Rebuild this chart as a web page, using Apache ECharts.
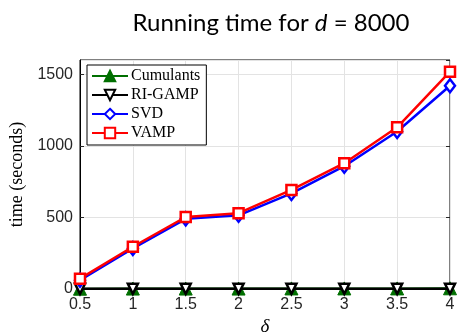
<!DOCTYPE html>
<html>
<head>
<meta charset="utf-8">
<script src="https://cdn.jsdelivr.net/npm/echarts@6/dist/echarts.min.js"></script>
<style>
  html, body { margin: 0; padding: 0; background: #fff; }
  #chart { width: 459px; height: 333px; }
</style>
</head>
<body>
<div id="chart"></div>
<script>
// data
const deltas = [0.5, 1, 1.5, 2, 2.5, 3, 3.5, 4];
const cumulants = [2, 3, 3, 3, 4, 4, 4, 5];
const riGamp = [1, 1, 1, 1, 1, 1, 1, 1];
const svd = [62, 283, 490, 515, 668, 858, 1100, 1420];
const vamp = [72, 295, 503, 530, 692, 879, 1130, 1518];
const yTicks = [0, 500, 1000, 1500];

const pairs = (ys) => deltas.map((x, i) => [x, ys[i]]);

const myChart = echarts.init(document.getElementById('chart'));

const tickLabel = { color: '#262626', fontSize: 16, fontFamily: 'Liberation Sans' };

const option = {
  animation: false,
  title: {
    text: 'Running time for {i|d} = 8000',
    left: 266,
    textAlign: 'center',
    top: 6,
    textStyle: {
      fontFamily: 'Lato',
      fontSize: 24,
      fontWeight: 'normal',
      color: '#000',
      rich: {
        i: { fontFamily: 'Lato', fontStyle: 'italic', fontSize: 24, color: '#000' }
      }
    }
  },
  legend: {
    left: 87,
    top: 65,
    orient: 'vertical',
    backgroundColor: '#fff',
    borderColor: '#000',
    borderWidth: 1,
    padding: [3, 6, 4, 4],
    itemGap: 3,
    itemWidth: 36,
    itemHeight: 13,
    textStyle: { fontFamily: 'Liberation Serif', fontSize: 16, color: '#000', padding: [0, 0, 0, -2] },
    data: ['Cumulants', 'RI-GAMP', 'SVD', 'VAMP']
  },
  grid: {
    left: 80, right: 9, top: 60, bottom: 44,
    outerBoundsMode: 'none',
    show: true, borderColor: '#000', borderWidth: 1
  },
  xAxis: [
    {
      type: 'value', min: 0.5, max: 4, interval: 0.5,
      name: 'δ', nameLocation: 'middle', nameGap: 28,
      nameTextStyle: { fontFamily: 'Liberation Serif', fontStyle: 'italic', fontSize: 19, color: '#000' },
      axisLine: { show: false },
      axisTick: { inside: true, length: 4, lineStyle: { color: '#262626' } },
      axisLabel: Object.assign({ margin: 8 }, tickLabel),
      splitLine: { show: true, lineStyle: { color: '#e3e3e3', width: 1 } }
    },
    {
      type: 'value', min: 0.5, max: 4, interval: 0.5, position: 'top',
      axisLine: { show: false },
      axisTick: { inside: true, length: 4, lineStyle: { color: '#262626' } },
      axisLabel: { show: false },
      splitLine: { show: false }
    }
  ],
  yAxis: [
    {
      type: 'value', min: 0, max: 1600, interval: 500,
      name: 'time (seconds)', nameLocation: 'middle', nameGap: 52,
      nameTextStyle: { fontFamily: 'Liberation Serif', fontSize: 18, color: '#000' },
      axisLine: { show: true, lineStyle: { color: '#000', width: 1 } },
      axisTick: { inside: true, length: 4, lineStyle: { color: '#262626' } },
      axisLabel: Object.assign({
        margin: 7, showMaxLabel: false,
        formatter: (v) => yTicks.includes(v) ? String(v) : ''
      }, tickLabel),
      splitLine: { show: true, lineStyle: { color: '#e3e3e3', width: 1 } }
    },
    {
      type: 'value', min: 0, max: 1600, interval: 500, position: 'right',
      axisLine: { show: false },
      axisTick: { inside: true, length: 4, lineStyle: { color: '#262626' } },
      axisLabel: { show: false },
      splitLine: { show: false }
    }
  ],
  series: [
    {
      name: 'Cumulants', type: 'line', data: pairs(cumulants), clip: false,
      symbol: 'triangle', symbolSize: 13,
      lineStyle: { color: '#006f00', width: 2 },
      itemStyle: { color: '#006f00', borderColor: '#006f00', borderWidth: 1 },
      z: 2
    },
    {
      name: 'RI-GAMP', type: 'line', data: pairs(riGamp), clip: false,
      symbol: 'triangle', symbolRotate: 180, symbolSize: 10,
      lineStyle: { color: '#000', width: 2.5 },
      itemStyle: { color: '#fff', borderColor: '#000', borderWidth: 2.5 },
      z: 3
    },
    {
      name: 'SVD', type: 'line', data: pairs(svd),
      symbol: 'diamond', symbolSize: [10, 13],
      lineStyle: { color: '#0000ff', width: 2.5 },
      itemStyle: { color: '#fff', borderColor: '#0000ff', borderWidth: 2.5 },
      z: 4
    },
    {
      name: 'VAMP', type: 'line', data: pairs(vamp),
      symbol: 'rect', symbolSize: 10,
      lineStyle: { color: '#ff0000', width: 2.5 },
      itemStyle: { color: '#fff', borderColor: '#ff0000', borderWidth: 2.5 },
      z: 5
    }
  ]
};

myChart.setOption(option);
</script>
</body>
</html>
